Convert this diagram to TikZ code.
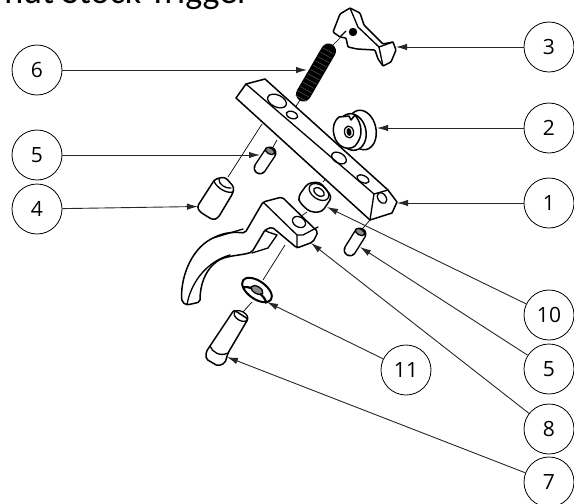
\documentclass[tikz,border=0pt]{standalone}
\usepackage{fontspec}
\setmainfont{Open Sans}
\newfontfamily\titlefont{Carlito}
\usetikzlibrary{arrows.meta,calc}
\tikzset{
  callout/.style={circle,draw=black,line width=0.8pt,fill=white,minimum size=50pt,inner sep=0pt,font=\fontsize{21}{21}\selectfont},
  leader/.style={draw=black!85,line width=0.9pt,-{Latex[length=11pt,width=6.5pt]}},
  part/.style={draw=black,line width=1.5pt,fill=white,line join=round,line cap=round},
  edge/.style={draw=black,line width=1.3pt,line join=round,line cap=round},
  axisline/.style={draw=black,line width=0.7pt},
  blob/.style={draw=black,line width=1.3pt,fill=black!45}
}
\begin{document}
\begin{tikzpicture}[x=1pt,y=-1pt]
\useasboundingbox (0,0) rectangle (574,504);
\begin{scope}
\clip (0,0) rectangle (574,504);
\node[anchor=base east,inner sep=0pt,font=\titlefont\fontsize{36}{36}\selectfont] (title) at (250,3) {nut Stock Trigger};
\end{scope}

% thin axis lines
\draw[axisline] (262,124) -- (228,177);
\draw[axisline] (277,140) -- (273,147);
\draw[axisline] (300,100) -- (293,111);
\draw[axisline] (333,45) -- (340,38);
\draw[axisline] (323,182) -- (327,177);
\draw[axisline] (370,220) -- (363,228);
\draw[axisline] (307,212) -- (300,217);
\draw[axisline] (285,245) -- (263,280);
\draw[axisline] (252,302) -- (243,312);

% part 3 : sear
\draw[part,rounded corners=1pt] (333,32) -- (340,14) -- (350,8) -- (360,13) -- (364,25) -- (383,44) -- (393,42) -- (396,50) -- (391,62) -- (383,66) -- (378,59) -- (375,50) -- (357,49) -- (348,47) -- (346,38) -- (340,37) -- cycle;
\draw[edge] (350,8) -- (358,27) -- (379,47) -- (383,66);
\draw[edge] (379,47) -- (393,42);
\draw[edge] (340,37) -- (346,31);
\fill[black] (353,32) circle (4.2);

% part 6 : spring
\draw[black,line width=15pt,line cap=round] (303.5,94) -- (328.5,51);
\foreach \t in {-0.1,0,...,1.1}{
  \draw[black!55,line width=0.35pt] ($(303.5,94)!\t!(328.5,51)+(-5.5,-3)$) -- ($(303.5,94)!\t!(328.5,51)+(5.5,3)$);
}

% part 1 : bar
\draw[part] (236,98) -- (246,84) -- (265,79) -- (388,190) -- (397,202) -- (392,213) -- (370,220) -- cycle;
\draw[edge] (246,84) -- (374,194) -- (388,190);
\draw[edge] (374,194) -- (370,220);
\draw[edge,shift={(382,198)},rotate=-55] (0,0) ellipse (6 and 4);
\draw[edge,shift={(277,101)},rotate=-25] (0,0) ellipse (10 and 6);
\draw[edge,shift={(292,115)},rotate=-20] (0,0) ellipse (6 and 3.5);
\draw[edge,shift={(339,158)},rotate=-30] (0,0) ellipse (8 and 5);
\draw[edge,shift={(363,179)},rotate=-25] (0,0) ellipse (6.5 and 3.5);

% part 2 : knob
\draw[part,shift={(362,130)},rotate=12] (0,0) ellipse (14 and 20);
\draw[part,shift={(352,132)},rotate=12] (0,0) ellipse (14 and 18.5);
\draw[part] (339,117) -- (349,116) -- (351,120) -- (355,115) .. controls (362,124) and (364,136) .. (355,146) .. controls (349,151) and (337,148) .. (334,135) .. controls (332,126) and (335,120) .. (339,117) -- cycle;
\draw[edge,shift={(349,132)},rotate=10] (0,0) ellipse (4.5 and 6);
\fill[black,shift={(349,132)},rotate=10] (0,0) ellipse (2.5 and 4);

% part 5 : upper pin
\draw[black,line width=13pt,line cap=round] (270,153) -- (260,168);
\draw[white,line width=10pt,line cap=round] (270,153) -- (260,168);
\draw[blob,shift={(270,151)},rotate=-30] (0,0) ellipse (5 and 3);

% part 4 : pin
\draw[part,rounded corners=3pt] (215,179) -- (225,177) -- (234,187) -- (233,193) -- (218,218) -- (213,220) -- (200,212) -- (197,207) -- cycle;
\draw[edge] (214,181) .. controls (216,187) and (226,194) .. (233,192);
\draw[edge] (219,179) .. controls (218,184) and (226,189) .. (231,188);

% part 10 : spacer
\draw[part,rounded corners=4pt] (298,197) -- (308,183) -- (320,182) -- (332,197) -- (322,212) -- (310,212) -- (300,203) -- cycle;
\draw[edge,shift={(319,192)},rotate=-35] (0,0) ellipse (11 and 7);
\draw[edge,shift={(319,192)},rotate=-35] (0,0) ellipse (6 and 3.5);

% part 8 : trigger
\draw[part,rounded corners=2pt] (263,202) -- (282,197) -- (318,232) -- (313,242) -- (297,248) -- (272,227) -- (265,230) -- (252,252) .. controls (240,256) and (225,255) .. (215,263) .. controls (205,272) and (200,285) .. (200,302) -- (187,305) -- (182,302) .. controls (180,280) and (190,250) .. (213,238) .. controls (225,232) and (235,232) .. (245,233) -- cycle;
\draw[edge] (263,202) -- (297,235) -- (297,248);
\draw[edge] (297,235) -- (303,235) -- (318,227);
\draw[edge] (187,305) .. controls (190,285) and (205,262) .. (230,255);
\draw[edge] (213,238) -- (243,229);
\draw[edge] (265,230) -- (268,232) -- (277,235) -- (268,248) -- (252,253);
\draw[edge,shift={(299,222)},rotate=-30] (0,0) ellipse (7 and 5);

% part 5 : lower pin
\draw[black,line width=13pt,line cap=round] (360,234) -- (350,250);
\draw[white,line width=10pt,line cap=round] (360,234) -- (350,250);
\draw[blob,shift={(360,232)},rotate=-30] (0,0) ellipse (5 and 3);

% part 11 : washer
\draw[part,line width=2pt,shift={(257,290)},rotate=-35] (0,0) ellipse (17 and 9);
\draw[line width=2.2pt,draw=black,shift={(257,292)},rotate=-35] (-14,4) arc (200:340:15 and 7);
\draw[blob,shift={(257,290)},rotate=-30] (0,0) ellipse (6.5 and 3.5);

% part 7 : pivot pin
\draw[part,rounded corners=2pt] (234,310) -- (248,319) -- (228,353) -- (225,363) -- (218,366) -- (206,359) -- (206,352) -- (210,346) -- cycle;
\draw[edge,shift={(241,316)},rotate=-30] (0,0) ellipse (7.5 and 4.5);
\draw[edge] (210,346) .. controls (212,352) and (220,357) .. (228,353);

% call-outs
\node[callout] (c6) at (37,70) {6};
\node[callout] (c5a) at (37,155) {5};
\node[callout] (c4) at (37,209) {4};
\node[callout] (c3) at (549,47) {3};
\node[callout] (c2) at (549,128) {2};
\node[callout] (c1) at (549,203) {1};
\node[callout] (c10) at (549,315) {10};
\node[callout] (c5b) at (549,369) {5};
\node[callout] (c8) at (549,429) {8};
\node[callout] (c7) at (549,482) {7};
\node[callout] (c11) at (406,370) {11};

% leader targets
\coordinate (t6) at (307,70);
\coordinate (t5a) at (260,155);
\coordinate (t4) at (198,206.5);
\coordinate (t3) at (396,47);
\coordinate (t2) at (377,128);
\coordinate (t1) at (397,203);
\coordinate (t10) at (327,207);
\coordinate (t5b) at (360,247);
\coordinate (t8) at (311,243);
\coordinate (t7) at (227,357);
\coordinate (t11) at (267,302);

\draw[leader] (c6) -- (t6);
\draw[leader] (c5a) -- (t5a);
\draw[leader] (c4) -- (t4);
\draw[leader] (c3) -- (t3);
\draw[leader] (c2) -- (t2);
\draw[leader] (c1) -- (t1);
\draw[leader] (c10) -- (t10);
\draw[leader] (c5b) -- (t5b);
\draw[leader] (c8) -- (t8);
\draw[leader] (c7) -- (t7);
\draw[leader] (c11) -- (t11);
\end{tikzpicture}
\end{document}
